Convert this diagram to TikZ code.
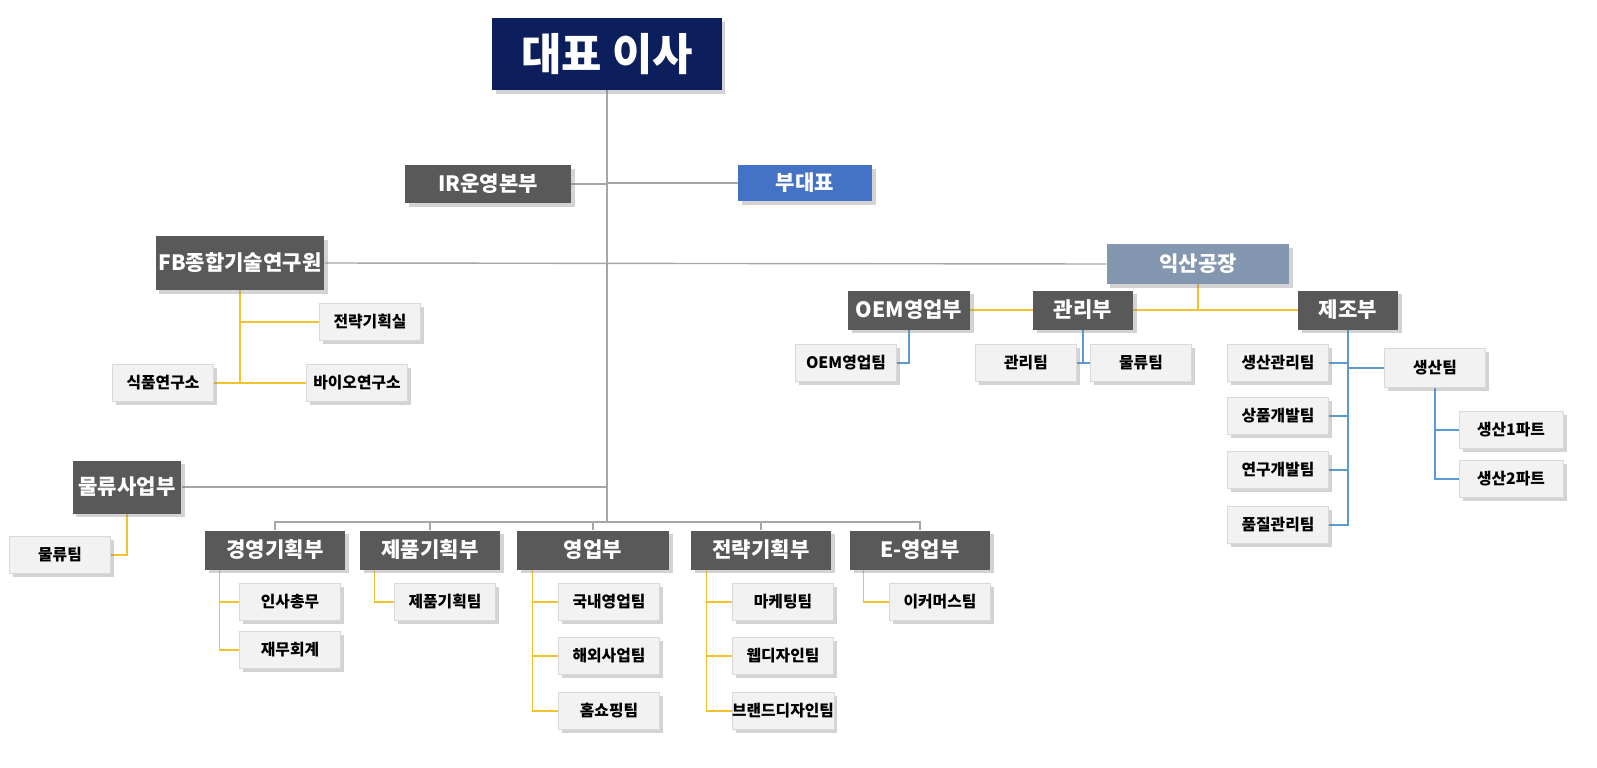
\documentclass[tikz,border=0pt]{standalone}
\usepackage{fontspec}
\setmainfont{Noto Sans CJK KR}
\usetikzlibrary{shadows}
\pgfdeclarelayer{bg}
\pgfsetlayers{bg,main}
\definecolor{ceoblue}{HTML}{0C1F5C}
\definecolor{vpblue}{HTML}{4472C4}
\definecolor{factory}{HTML}{8497B0}
\definecolor{deptgray}{HTML}{595959}
\definecolor{teamfill}{HTML}{F2F2F2}
\definecolor{grayline}{HTML}{A6A6A6}
\definecolor{yelline}{HTML}{F2C12E}
\definecolor{blueline}{HTML}{5B9BD5}
\tikzset{
  box/.style={rectangle,inner sep=0pt,font=\bfseries,drop shadow={opacity=0.35,shadow xshift=2pt,shadow yshift=-2pt}},
  dept/.style={box,fill=deptgray,text=white,minimum width=2.8cm,minimum height=0.78cm,font=\bfseries\fontsize{12}{14}\selectfont},
  team/.style={box,fill=teamfill,draw=black!15,minimum width=2.02cm,minimum height=0.74cm,font=\bfseries\fontsize{9}{11}\selectfont},
  gline/.style={draw=grayline,line width=0.8pt},
  yline/.style={draw=yelline,line width=0.8pt},
  bline/.style={draw=blueline,line width=0.8pt}
}
\begin{document}
\begin{tikzpicture}[x=0.02cm,y=0.02cm]
        % top
        \node[box,fill=ceoblue,text=white,minimum width=4.6cm,minimum height=1.44cm,font=\bfseries\fontsize{25}{28}\selectfont] (ceo) at (607,-54) {대표 이사};
        \node[dept,minimum width=3.32cm,minimum height=0.76cm] (ir) at (488,-184) {IR운영본부};
        \node[dept,fill=vpblue,minimum width=2.68cm,minimum height=0.72cm] (vp) at (805,-183) {부대표};
        \node[dept,minimum width=3.38cm,minimum height=1.08cm] (fb) at (240,-263) {FB종합기술연구원};
        \node[dept,fill=factory,minimum width=3.66cm,minimum height=0.8cm] (ik) at (1198,-264) {익산공장};
        \node[dept,minimum width=2.18cm,minimum height=1.06cm] (ml) at (127,-487) {물류사업부};
        % FB
        \node[team] (jrs) at (370,-322) {전략기획실};
        \node[team] (sik) at (163,-383) {식품연구소};
        \node[team] (bio) at (357,-383) {바이오연구소};
        % factory
        \node[dept,minimum width=2.44cm] (oem) at (909,-310) {OEM영업부};
        \node[dept,minimum width=2cm] (gr) at (1083,-310) {관리부};
        \node[dept,minimum width=2cm] (jj) at (1348,-310) {제조부};
        \node[team] (oemt) at (846,-363) {OEM영업팀};
        \node[team] (grt) at (1026,-363) {관리팀};
        \node[team] (mrt) at (1141,-363) {물류팀};
        \node[team] (sgt) at (1278,-363) {생산관리팀};
        \node[team] (sgd) at (1278,-416) {상품개발팀};
        \node[team] (ygd) at (1278,-470) {연구개발팀};
        \node[team] (pjt) at (1278,-525) {품질관리팀};
        \node[team,minimum height=0.78cm] (sst) at (1435,-368) {생산팀};
        \node[team,minimum width=2.08cm] (ss1) at (1511,-430) {생산1파트};
        \node[team,minimum width=2.08cm] (ss2) at (1511,-479) {생산2파트};
        % departments
        \node[team] (mlt) at (60,-555) {물류팀};
        \node[dept] (gy) at (275,-550) {경영기획부};
        \node[dept] (jp) at (430,-550) {제품기획부};
        \node[dept,minimum width=3.04cm] (yu) at (593,-550) {영업부};
        \node[dept] (jg) at (761,-550) {전략기획부};
        \node[dept] (ey) at (920,-550) {E-영업부};
        \node[team] (insa) at (290,-602) {인사총무};
        \node[team] (jmh) at (290,-650) {재무회계};
        \node[team] (jpt) at (445,-602) {제품기획팀};
        \node[team] (gny) at (609,-602) {국내영업팀};
        \node[team] (hws) at (609,-656) {해외사업팀};
        \node[team] (hst) at (609,-711) {홈쇼핑팀};
        \node[team] (mkt) at (783,-602) {마케팅팀};
        \node[team] (wdt) at (783,-656) {웹디자인팀};
        \node[team] (bdt) at (783,-711) {브랜드디자인팀};
        \node[team] (ect) at (940,-602) {이커머스팀};
        \begin{pgfonlayer}{bg}
        % gray lines
        \coordinate (bus) at (607,-522);
        \path[gline] (ceo.south) -- (bus);
        \path[gline] (ir.east) -- (ir.east -| ceo.south);
        \path[gline] (vp.west) -- (vp.west -| ceo.south);
        \path[gline] (fb.east) -- (ik.west);
        \path[gline] (ml.east) -- (ml.east -| ceo.south);
        \foreach \d in {gy,jp,yu,jg,ey}
          \path[gline] (bus) -| (\d.north);
        % yellow lines
        \path[yline] (fb.south) |- (bio.west);
        \path[yline] (fb.south |- sik.east) -- (sik.east);
        \path[yline] (fb.south |- jrs.west) -- (jrs.west);
        \path[yline] (ik.south) -- (ik.south |- gr.east);
        \path[yline] (oem.east) -- (jj.west);
        \path[yline] (ml.south) |- (mlt.east);
        \path[yline] ([xshift=0.3cm]gy.south west) |- (jmh.west);
        \path[yline] ([xshift=0.3cm]gy.south west |- insa.west) -- (insa.west);
        \path[yline] ([xshift=0.3cm]jp.south west) |- (jpt.west);
        \path[yline] ([xshift=0.32cm]yu.south west) |- (hst.west);
        \path[yline] ([xshift=0.32cm]yu.south west |- gny.west) -- (gny.west);
        \path[yline] ([xshift=0.32cm]yu.south west |- hws.west) -- (hws.west);
        \path[yline] ([xshift=0.32cm]jg.south west) |- (bdt.west);
        \path[yline] ([xshift=0.32cm]jg.south west |- mkt.west) -- (mkt.west);
        \path[yline] ([xshift=0.32cm]jg.south west |- wdt.west) -- (wdt.west);
        \path[yline] ([xshift=0.28cm]ey.south west) |- (ect.west);
        % blue lines
        \path[bline] (oem.south) |- (oemt.east);
        \path[bline] (gr.south) |- (grt.east);
        \path[bline] (gr.south |- mrt.west) -- (mrt.west);
        \path[bline] (jj.south) |- (pjt.east);
        \foreach \t in {sgt,sgd,ygd}
          \path[bline] (jj.south |- \t.east) -- (\t.east);
        \path[bline] (jj.south |- sst.west) -- (sst.west);
        \path[bline] (sst.south) |- (ss2.west);
        \path[bline] (sst.south |- ss1.west) -- (ss1.west);
        \end{pgfonlayer}
        \pgfresetboundingbox
        \useasboundingbox (0,0) rectangle (1597,-768);
\end{tikzpicture}
\end{document}
